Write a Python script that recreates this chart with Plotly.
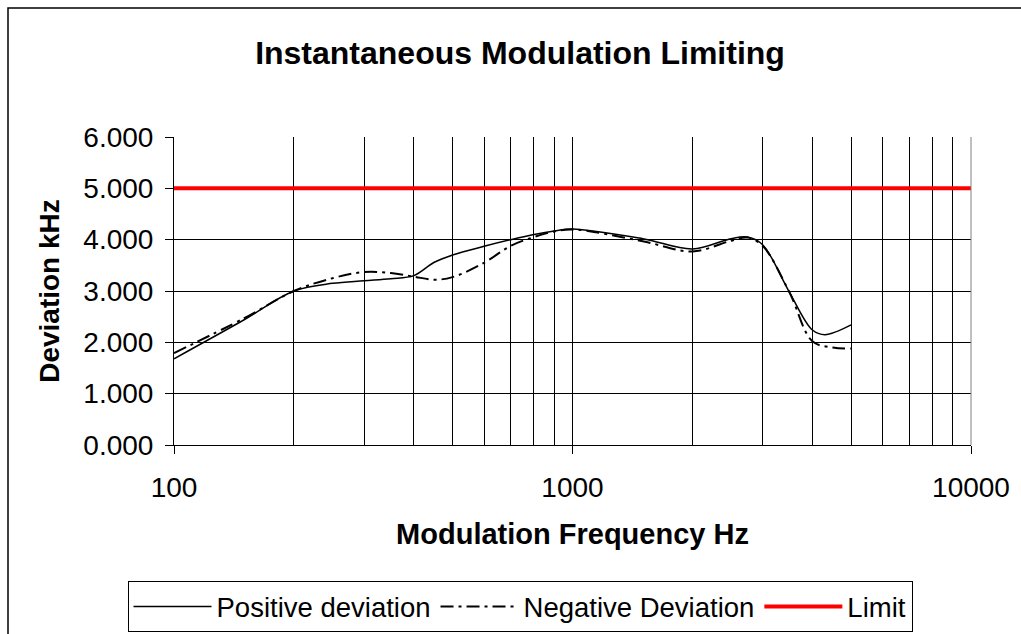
import plotly.graph_objects as go

freq = [100, 150, 200, 250, 300, 350, 400, 450, 500, 600, 700, 800, 900, 1000,
        1500, 2000, 2500, 2750, 3000, 3500, 4000, 4300, 5000]
positive = [1.68, 2.44, 3.00, 3.15, 3.20, 3.24, 3.30, 3.56, 3.70, 3.87, 4.00, 4.10, 4.17, 4.21,
            4.02, 3.82, 4.02, 4.05, 3.90, 2.98, 2.24, 2.15, 2.34]
neg_freq = [100, 150, 200, 250, 300, 350, 400, 450, 500, 600, 700, 800, 900, 1000,
            1500, 2000, 2500, 2750, 3000, 3500, 4000, 4500, 5000]
negative = [1.79, 2.47, 3.00, 3.25, 3.37, 3.35, 3.28, 3.22, 3.27, 3.55, 3.88, 4.05, 4.16, 4.20,
            3.97, 3.77, 3.98, 4.04, 3.88, 2.98, 2.02, 1.90, 1.88]
limit_freq = [100, 10000]
limit = [5.0, 5.0]
x_tick_vals = [100, 1000, 10000]
x_tick_text = ["100", "1000", "10000"]

W, H = 1021, 634
L, R, T, B = 174, 50, 137, 189
pw, ph = W - L - R, H - T - B

def px_x(p):
    return (p - L) / pw

def px_y(p):
    return (H - B - p) / ph

fig = go.Figure()
fig.add_trace(go.Scatter(x=freq, y=positive, name="Positive deviation", mode="lines",
                         line=dict(color="black", width=1.5, shape="spline", smoothing=1.0)))
fig.add_trace(go.Scatter(x=neg_freq, y=negative, name="Negative Deviation", mode="lines",
                         line=dict(color="black", width=2, shape="spline", smoothing=1.0,
                                   dash="13px,5px,3px,5px")))
fig.add_trace(go.Scatter(x=limit_freq, y=limit, name="Limit", mode="lines",
                         line=dict(color="#FF0000", width=4)))

font = "Arial, Liberation Sans, sans-serif"

fig.update_layout(
    width=W, height=H,
    margin=dict(l=L, r=R, t=T, b=B, autoexpand=False),
    paper_bgcolor="white", plot_bgcolor="white",
    font=dict(family=font, color="black", size=27),
    title=dict(text="<b>Instantaneous Modulation Limiting</b>", x=(258 + 782) / 2 / W, xanchor="center",
               y=1 - 53 / H, yanchor="middle", font=dict(size=32, family=font, color="black")),
    showlegend=True,
    legend=dict(orientation="h", xref="container", yref="container",
                x=520 / W, xanchor="center", y=1 - 581 / H, yanchor="top",
                bgcolor="white", bordercolor="black", borderwidth=1,
                font=dict(size=27.5, family=font, color="black"),
                itemwidth=78, tracegroupgap=0),
    xaxis=dict(type="log", range=[2, 4], tickvals=x_tick_vals, ticktext=x_tick_text,
               showgrid=True, gridcolor="black", gridwidth=1,
               showline=True, linecolor="black", linewidth=1, ticks="outside", ticklen=8,
               tickcolor="black", tickfont=dict(size=28, family=font), ticklabelstandoff=9,
               minor=dict(dtick="D1", showgrid=True, gridcolor="black", gridwidth=1, ticks=""),
               title=dict(text="<b>Modulation Frequency Hz</b>", font=dict(size=29, family=font),
                          standoff=22),
               zeroline=False),
    yaxis=dict(range=[0, 6], dtick=1, tickformat=".3f", showgrid=True, gridcolor="black", gridwidth=1,
               showline=True, linecolor="black", linewidth=1, ticks="outside", ticklen=8,
               tickcolor="black", tickfont=dict(size=28, family=font), ticklabelstandoff=6,
               title=dict(text="<b>Deviation kHz</b>", font=dict(size=28, family=font), standoff=15),
               zeroline=False),
)

# plot-area right border (grey)
fig.add_shape(type="line", xref="paper", yref="paper", x0=1, x1=1, y0=0, y1=1,
              line=dict(color="#808080", width=1))
# outer chart border
fig.add_shape(type="rect", xref="paper", yref="paper", x0=px_x(8), y0=px_y(H + 40),
              x1=px_x(W + 40), y1=px_y(8), line=dict(color="black", width=1.5), layer="below")

fig.write_html("out.html", config={"displayModeBar": False},
               post_script="document.body.style.margin='0';")
